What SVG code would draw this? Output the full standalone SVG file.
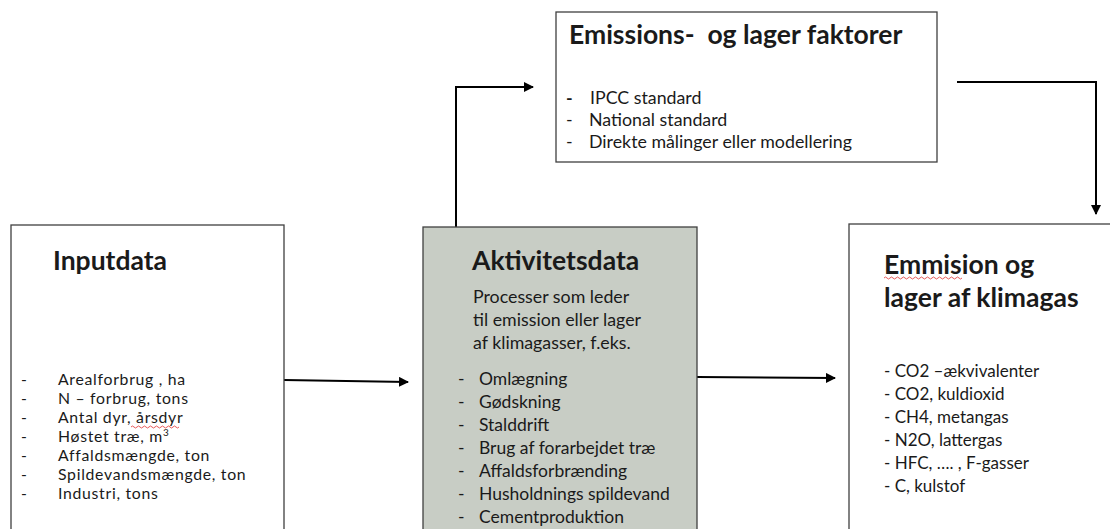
<svg xmlns="http://www.w3.org/2000/svg" width="1110" height="529" viewBox="0 0 1110 529">
<style>
.box{fill:#fff;stroke:#404040;stroke-width:1.3}
.grey{fill:#c8cdc5;stroke:#404040;stroke-width:1.3}
.t{font-family:Lato,"Liberation Sans",sans-serif;fill:#1a1a1a;white-space:pre}
.title{font-weight:bold;font-size:26.5px}
.left{font-size:15.8px;letter-spacing:0.7px}
.mid{font-size:17.5px}
.para{font-size:17.8px}
.top{font-size:17.8px}
.right{font-size:17px}
.conn{fill:none;stroke:#000;stroke-width:2}
.squig{fill:none;stroke:#e03030;stroke-width:0.8}
</style>
<defs>
<marker id="arr" viewBox="0 0 10 10" refX="9" refY="5" markerWidth="5" markerHeight="5" orient="auto" markerUnits="strokeWidth">
<path d="M0,0 L10,5 L0,10 z" fill="#000"/>
</marker>
</defs>
<rect width="1110" height="529" fill="#fff"/>

<g id="connectors">
<path class="conn" d="M456,227 V87 H533" marker-end="url(#arr)"/>
<path class="conn" d="M957,82 H1096 V214" marker-end="url(#arr)"/>
<path class="conn" d="M284,380 L408,382" marker-end="url(#arr)"/>
<path class="conn" d="M697,377 L835,378" marker-end="url(#arr)"/>
</g>

<g id="factors">
<rect class="box" x="556" y="12" width="381" height="150"/>
<text class="t title" x="569" y="44">Emissions-  og lager faktorer</text>
<g class="t top">
<text x="566" y="104" font-weight="bold">-</text><text x="590" y="104">IPCC standard</text>
<text x="566" y="126">-</text><text x="589" y="126">National standard</text>
<text x="566" y="148">-</text><text x="589" y="148">Direkte målinger eller modellering</text>
</g>
</g>

<g id="inputdata">
<rect class="box" x="11" y="225" width="273" height="320"/>
<text class="t title" x="53" y="270">Inputdata</text>
<g class="t left">
<text x="21" y="385">-</text><text x="58" y="385">Arealforbrug , ha</text>
<text x="21" y="404">-</text><text x="58" y="404">N – forbrug, tons</text>
<text x="21" y="423">-</text><text x="58" y="423">Antal dyr, årsdyr</text>
<text x="21" y="442">-</text><text x="58" y="442">Høstet træ, m<tspan font-size="10" dy="-6">3</tspan></text>
<text x="21" y="461">-</text><text x="58" y="461">Affaldsmængde, ton</text>
<text x="21" y="480">-</text><text x="58" y="480">Spildevandsmængde, ton</text>
<text x="21" y="499">-</text><text x="58" y="499">Industri, tons</text>
</g>
<path class="squig" d="M131,427 q1.5,-2 3,0 t3,0 t3,0 t3,0 t3,0 t3,0 t3,0 t3,0 t3,0 t3,0 t3,0 t3,0 t3,0 t3,0 t3,0 t3,0"/>
</g>

<g id="aktivitetsdata">
<rect class="grey" x="423" y="227" width="274" height="320"/>
<text class="t title" x="472" y="270">Aktivitetsdata</text>
<g class="t para">
<text x="473" y="303">Processer som leder</text>
<text x="473" y="326">til emission eller lager</text>
<text x="473" y="349">af klimagasser, f.eks.</text>
</g>
<g class="t mid">
<text x="458" y="385">-</text><text x="479" y="385">Omlægning</text>
<text x="458" y="408">-</text><text x="479" y="408">Gødskning</text>
<text x="458" y="431">-</text><text x="479" y="431">Stalddrift</text>
<text x="458" y="454">-</text><text x="479" y="454">Brug af forarbejdet træ</text>
<text x="458" y="477">-</text><text x="479" y="477">Affaldsforbrænding</text>
<text x="458" y="500">-</text><text x="479" y="500">Husholdnings spildevand</text>
<text x="458" y="523">-</text><text x="479" y="523">Cementproduktion</text>
</g>
</g>

<g id="emission">
<rect class="box" x="849" y="224" width="280" height="320"/>
<text class="t title" x="884" y="274">Emmision og</text>
<text class="t title" x="884" y="307">lager af klimagas</text>
<path class="squig" d="M884,278 q1.5,-2 3,0 t3,0 t3,0 t3,0 t3,0 t3,0 t3,0 t3,0 t3,0 t3,0 t3,0 t3,0 t3,0 t3,0 t3,0 t3,0 t3,0 t3,0 t3,0 t3,0 t3,0 t3,0 t3,0 t3,0 t3,0 t3,0"/>
<g class="t right">
<text x="884" y="377">- CO2 –ækvivalenter</text>
<text x="884" y="400">- CO2,  kuldioxid</text>
<text x="884" y="423">- CH4, metangas</text>
<text x="884" y="446">- N2O, lattergas</text>
<text x="884" y="469">- HFC, …. ,  F-gasser</text>
<text x="884" y="492">- C, kulstof</text>
</g>
</g>
</svg>
